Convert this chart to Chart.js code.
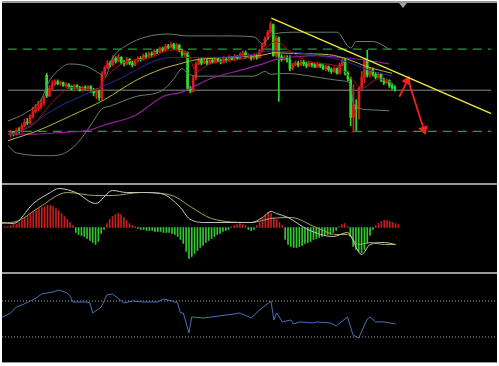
<!DOCTYPE html>
<html>
<head>
<meta charset="utf-8">
<script src="https://cdn.jsdelivr.net/npm/chart.js@4.4.1/dist/chart.umd.min.js"></script>
<style>
  html, body { margin: 0; padding: 0; background: #fff; overflow: hidden; }
  #frame { position: absolute; left: 2px; top: 1px; width: 495px; height: 362px; background: #000; }
  .rule { position: absolute; left: 2px; width: 495px; background: #9a9a9a; }
  canvas { position: absolute; left: 2px; }
  #shift { position: absolute; left: 399px; top: 3px; width: 0; height: 0;
           border-left: 4px solid transparent; border-right: 4px solid transparent; border-top: 5px solid #a0a0a0; }
</style>
</head>
<body>
<div id="frame"></div>
<div class="rule" style="top:1px;height:2px"></div>
<canvas id="priceChart" width="495" height="180" style="top:3px"></canvas>
<div class="rule" style="top:183px;height:2px"></div>
<canvas id="macdChart" width="495" height="87" style="top:185px"></canvas>
<div class="rule" style="top:272px;height:2px"></div>
<canvas id="rsiChart" width="495" height="88" style="top:274px"></canvas>
<div class="rule" style="top:362px;height:1px"></div>
<div id="shift"></div>
<script>
// candles, price units (one bar per index)
const opens = [45,48,46,50,49,55,59,58,65,70, 73,75,79,109,87,95,99,102,100,101, 98,99,97,95,98,96,93,96,95,97,
  93,90,92,85,111,117,122,120,127,124, 128,123,121,126,122,120,124,127,126,130, 129,132,131,135,134,137,136,140,139,142,
  138,141,136,131,133,95,92,106,121,125, 122,124,122,125,123,126,124,123,126,125, 128,126,129,127,131,133,128,130,127,129,
  128,135,141,148,155,163,130,149,129,126, 128,125,116,120,122,120,123,121,119,122, 120,118,121,119,116,118,115,113,116,111,
  120,125,111,105,64,77,73,95,107,125, 109,115,110,107,110,104,101,103,98,96];
const closes = [48,46,50,49,55,59,58,65,70,73, 75,79,85,87,95,99,102,100,101,98, 99,97,95,98,96,93,96,95,97,93,
  90,92,85,111,117,122,120,127,124,128, 123,121,126,122,120,124,127,126,130,129, 132,131,135,134,137,136,140,139,142,138,
  141,136,131,133,95,92,106,121,125,122, 124,122,125,123,126,124,123,126,125,128, 126,129,127,131,133,128,130,127,129,128,
  135,141,148,155,163,130,149,129,126,128, 125,116,120,122,120,123,121,119,122,120, 118,121,119,116,118,115,113,116,111,120,
  125,111,105,64,77,73,95,107,125,109, 115,110,107,110,104,101,103,98,96,94];
const highs = [50,49,52,53,57,62,63,67,75,78, 81,83,87,111,98,103,104,104,103,102, 101,100,98,99,99,97,97,98,98,98,
  95,95,93,113,119,125,124,130,129,131, 129,125,128,127,124,126,129,129,132,133, 134,134,137,137,139,139,142,142,144,143,
  143,142,137,135,134,97,108,123,128,127, 126,126,128,127,128,127,126,129,128,130, 129,131,130,133,135,135,132,131,131,131,
  137,143,150,157,166,164,151,150,131,130, 130,130,122,124,124,125,125,123,124,123, 122,123,122,121,120,119,117,118,117,122,
  127,127,113,107,99,83,97,113,127,136, 117,117,112,112,111,106,105,104,100,98];
const lows = [43,44,45,47,48,54,56,57,63,69, 71,73,77,85,86,93,98,99,98,97, 96,95,93,94,95,92,92,93,94,91,
  87,84,82,83,109,116,118,119,122,123, 121,119,120,120,118,119,123,124,125,127, 128,129,130,132,133,134,135,137,138,137,
  137,134,129,129,93,90,91,104,120,120, 121,120,121,122,122,123,121,122,123,124, 125,125,126,126,130,127,127,125,126,126,
  127,134,140,147,154,129,128,81,124,125, 123,114,115,119,118,119,119,117,118,118, 117,117,117,115,114,113,111,112,110,110,
  119,109,103,55,48,50,62,93,101,107, 107,108,105,106,102,99,100,96,94,92];

// overlays as [bar index, price]
const maRed = [[0,46],[4,50],[8,56],[16,83],[22,96],[31,93],[34,105],[40,121],[51,128],[58,136],[64,133],[67,113],[72,121],
  [83,126],[91,135],[96,145],[101,135],[108,123],[118,119],[124,103],[127,95],[133,105],[138,101]];
const maBlue = [[0,45],[4,50],[16,73],[28,90],[40,106],[51,123],[58,128],[69,128],[83,129],[94,135],[104,133],[115,128],
  [122,123],[129,115],[138,108]];
const maYellow = [[-1,39],[10,50],[22,66],[34,83],[45,103],[55,116],[61,121],[66,125],[78,128],[90,130],[96,133],[104,132],
  [115,131],[122,126],[129,118],[138,111]];
const maPurple = [[-1,46],[9,46],[19,48],[28,50],[34,56],[45,66],[55,86],[62,91],[65,95],[72,105],[84,115],[90,120],[96,126],
  [104,129],[111,130],[119,128],[129,125],[137,121]];
const bandUpper = [[-1,60],[5,68],[11,83],[14,103],[18,116],[21,121],[27,119],[32,111],[34,107],[37,128],[42,141],[49,150],
  [57,153],[64,151],[76,151],[88,150],[91,143],[95,153],[104,155],[118,155],[123,138],[125,145],[131,145],[137,137]];
const bandLower = [[-1,34],[2,26],[14,23],[18,24],[24,36],[29,56],[33,73],[36,76],[45,86],[55,93],[59,105],[62,116],[64,111],
  [67,108],[76,108],[88,108],[92,113],[94,110],[99,111],[115,105],[120,103],[123,99],[124,78],[130,72],[137,71]];
const dashedLevels = [137, 49];
const pivotLevel = 93;
const trendLine = [[94.3,170],[173.9,68]];
const arrowUp = [[140.6,86],[143.5,103]];
const arrowDown = [[144.2,100],[149.5,51]];

// MACD
const macdHist = [0.1,0.1,0.2,0.3,0.3,0.5,0.7,0.9,1.1,1.3, 1.5,1.7,1.9,2.0,2.1,2.2,2.2,2.1,1.9,1.7,
  1.4,1.1,0.8,0.5,0.2,-0.5,-0.7,-0.8,-0.9,-1.1, -1.3,-1.5,-1.7,-1.4,-0.6,-0.2,0.4,0.8,1.1,1.3,
  1.4,1.3,1.0,0.7,0.4,0.2,0.1,-0.1,-0.2,-0.2, -0.3,-0.3,-0.3,-0.4,-0.4,-0.4,-0.5,-0.5,-0.5,-0.6,
  -0.7,-0.9,-1.2,-1.6,-2.4,-3.1,-2.9,-2.6,-2.3,-2.0, -1.8,-1.5,-1.3,-1.1,-0.9,-0.7,-0.6,-0.4,-0.3,-0.2,
  0.1,0.2,0.3,0.4,0.3,0.2,-0.2,-0.3,-0.2,0.2, 0.5,0.9,1.2,1.5,1.4,1.0,0.8,0.5,0.2,-1.2,
  -1.7,-1.9,-2.0,-2.0,-1.9,-1.8,-1.6,-1.5,-1.4,-1.2, -1.1,-1.0,-0.9,-0.8,-0.7,-0.7,-0.5,-0.3,0.1,0.3,
  0.4,0.1,-0.9,-1.9,-2.2,-2.4,-2.5,-2.2,-1.6,-0.8, -0.2,0.2,0.4,0.6,0.7,0.7,0.6,0.5,0.4,0.3];
const macdLine = [[-1,0.5],[3,0.4],[10,2.4],[16,3.5],[19,3.9],[25,3.5],[32,2.4],[38,3.7],[43,3.5],[48,3.5],[55,3.4],
  [62,2.0],[65,0.9],[71,0.5],[87,0.5],[91,1.0],[94,1.6],[96,1.4],[100,1.0],[107,-0.2],[116,-0.9],[121,-0.5],
  [126,-2.7],[129,-1.7],[134,-1.5],[138,-1.7]];
const signalLine = [[-1,0.4],[5,0.7],[12,2.0],[22,3.5],[32,3.2],[38,3.2],[48,3.5],[59,3.2],[66,2.0],[73,0.9],[87,0.5],
  [94,0.9],[101,1.0],[110,0.0],[117,-0.7],[121,-0.7],[125,-1.7],[129,-1.5],[134,-1.7],[138,-1.7]];

// RSI
const rsiLevels = [70, 30];
const rsiLine = [[-1,52],[0,53.3],[2,56.7],[4,63.3],[6,65.6],[9,70],[11,73.3],[13,77.8],[17,80],[19,82.2],[22,78.9],[23,75.6],
  [24,68.9],[29,68.9],[30,67.8],[31,56.7],[34,63.3],[36,76.7],[38,77.8],[42,67.8],[45,70],[49,68.9],[54,68.9],[56,72.2],
  [59,70],[61,67.8],[62,56.7],[63,56.7],[65,34.4],[66,52.2],[70,51.1],[73,52.2],[81,55.6],[83,56.7],[87,51.1],[90,60],
  [94,70],[95,48.9],[96,56.7],[98,46.7],[101,48.9],[102,44.4],[104,46.7],[109,45.6],[110,46.7],[115,45.6],[117,42.2],
  [121,52.2],[123,32.2],[125,28.9],[128,50],[129,52.2],[131,46.7],[134,46.7],[138,44.4]];

const PITCH = 2.83;   // px per bar
const X0 = 3;         // px from canvas left to first bar
const W = 495;
const X_MIN = -X0 / PITCH, X_MAX = (W - X0) / PITCH;

const UP = '#e01a1a', DOWN = '#2bdc2b';

function pts(pairs) {
    return pairs.map(p => ({ x: p[0], y: p[1] }));
}

function flat(level) {
    return [{ x: X_MIN, y: level }, { x: X_MAX, y: level }];
}

function line(data, color, width, extra) {
    return Object.assign({
        type: 'line', data: data, borderColor: color, borderWidth: width,
        pointRadius: 0, fill: false, cubicInterpolationMode: 'monotone'
    }, extra || {});
}

function options(yMin, yMax) {
    return {
        responsive: false,
        animation: false,
        events: [],
        layout: { padding: 0 },
        plugins: { legend: { display: false }, tooltip: { enabled: false } },
        scales: {
            x: { type: 'linear', display: false, offset: false, min: X_MIN, max: X_MAX },
            y: { type: 'linear', display: false, min: yMin, max: yMax }
        }
    };
}

// Price chart
const candleColors = opens.map((o, i) => closes[i] >= o ? UP : DOWN);
const priceDatasets = [
    line(pts(trendLine), '#eeea3c', 1.4, { order: 0, cubicInterpolationMode: 'default', tension: 0 }),
    line(pts(arrowUp), '#ee2222', 1.8, { order: 0, tension: 0, pointRadius: [0, 4], pointStyle: 'triangle',
        pointRotation: [0, 25], pointBackgroundColor: '#ee2222', pointBorderColor: '#ee2222' }),
    line(pts(arrowDown), '#ee2222', 1.8, { order: 0, tension: 0, pointRadius: [0, 4], pointStyle: 'triangle',
        pointRotation: [0, 163], pointBackgroundColor: '#ee2222', pointBorderColor: '#ee2222' }),
    line(pts(maRed), '#a81414', 1, { order: 1 }),
    line(pts(maBlue), '#222c9c', 1, { order: 1 }),
    line(pts(maYellow), '#bdb442', 1, { order: 1 }),
    line(pts(maPurple), '#92209e', 1.2, { order: 1 }),
    line(pts(bandUpper), '#62806d', 1, { order: 1 }),
    line(pts(bandLower), '#62806d', 1, { order: 1 }),
    {
        type: 'bar', order: 2, grouped: false, barThickness: 2,
        data: opens.map((o, i) => ({ x: i, y: [o, closes[i]] })),
        backgroundColor: candleColors
    },
    {
        type: 'bar', order: 3, grouped: false, barThickness: 1,
        data: lows.map((l, i) => ({ x: i, y: [l, highs[i]] })),
        backgroundColor: candleColors
    },
    line(flat(pivotLevel), '#8a8a8a', 1, { order: 4, tension: 0 }),
    ...dashedLevels.map(lv => line(flat(lv), '#2a9a3c', 1.2, { order: 4, tension: 0, borderDash: [9, 6] }))
];

new Chart(document.getElementById('priceChart'), {
    type: 'bar',
    data: { datasets: priceDatasets },
    options: options(0, 180)
});

// MACD chart
new Chart(document.getElementById('macdChart'), {
    type: 'bar',
    data: {
        datasets: [
            line(pts(macdLine), '#c4c4c4', 1, { order: 0 }),
            line(pts(signalLine), '#aaa05c', 1, { order: 0 }),
            {
                type: 'bar', order: 1, grouped: false, barThickness: 1,
                data: macdHist.map((v, i) => ({ x: i, y: v })),
                backgroundColor: macdHist.map(v => v >= 0 ? '#c81e1e' : '#30c830')
            }
        ]
    },
    options: options(-4.45, 4.25)
});

// RSI chart
new Chart(document.getElementById('rsiChart'), {
    type: 'line',
    data: {
        datasets: [
            line(pts(rsiLine), '#4672b8', 1, { order: 0, cubicInterpolationMode: 'default', tension: 0 }),
            ...rsiLevels.map(lv => line(flat(lv), '#a8a8a8', 1, { order: 1, tension: 0, borderDash: [1, 2] }))
        ]
    },
    options: options(2.2, 100)
});
</script>
</body>
</html>
